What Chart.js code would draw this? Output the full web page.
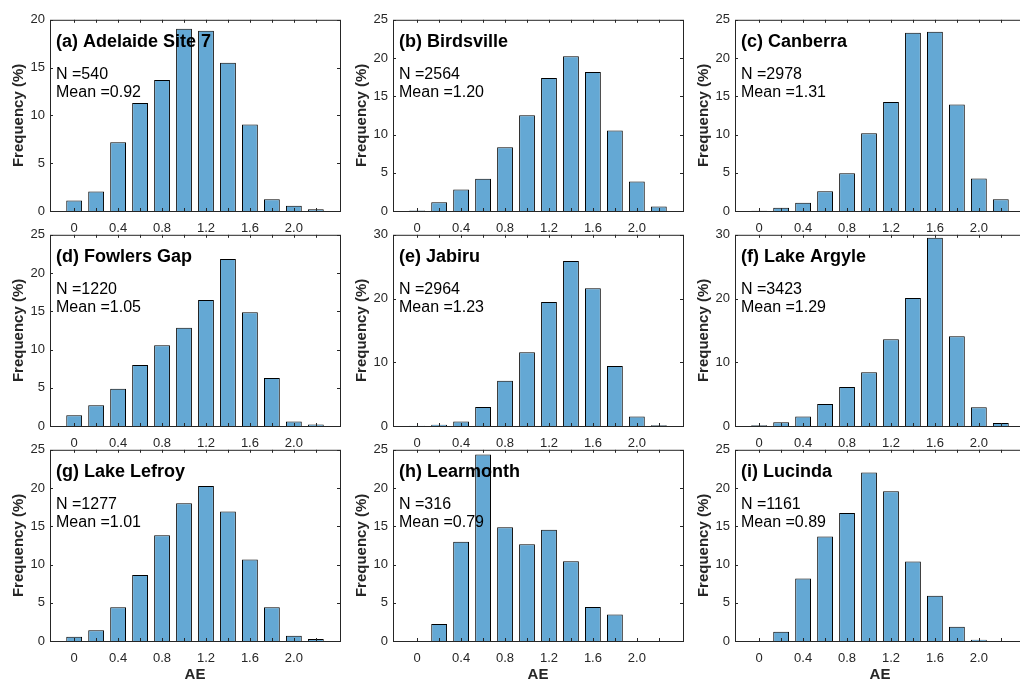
<!DOCTYPE html>
<html>
<head>
<meta charset="utf-8">
<script src="https://cdn.jsdelivr.net/npm/chart.js@4.4.1/dist/chart.umd.min.js"></script>
<style>
  html, body { margin: 0; padding: 0; background: #fff; overflow: hidden; }
  body { width: 1020px; height: 681px; position: relative; }
  canvas { position: absolute; }
</style>
</head>
<body>
<script>
// ── data ──
const bins        = [0, 0.2, 0.4, 0.6, 0.8, 1.0, 1.2, 1.4, 1.6, 1.8, 2.0, 2.2];
const xTickVals   = [0, 0.4, 0.8, 1.2, 1.6, 2.0];
const xTickLabels = ["0", "0.4", "0.8", "1.2", "1.6", "2.0"];

const siteTitles = ["(a) Adelaide Site 7", "(b) Birdsville", "(c) Canberra",
                    "(d) Fowlers Gap", "(e) Jabiru", "(f) Lake Argyle",
                    "(g) Lake Lefroy", "(h) Learmonth", "(i) Lucinda"];
const siteN      = [540, 2564, 2978, 1220, 2964, 3423, 1277, 316, 1161];
const siteMean   = ["0.92", "1.20", "1.31", "1.05", "1.23", "1.29", "1.01", "0.79", "0.89"];
const yMax       = [20, 25, 25, 25, 30, 30, 25, 25, 25];
const yStep      = [5, 5, 5, 5, 10, 10, 5, 5, 5];

const adelaide   = [1.10, 2.03, 7.19, 11.29, 13.70, 19.07, 18.86, 15.52, 9.05, 1.24, 0.55, 0.17];
const birdsville = [0.08, 1.16, 2.80, 4.22, 8.35, 12.52, 17.38, 20.22, 18.16, 10.54, 3.87, 0.60];
const canberra   = [0.03, 0.43, 1.08, 2.58, 4.95, 10.15, 14.24, 23.32, 23.45, 13.94, 4.26, 1.55];
const fowlers    = [1.42, 2.72, 4.87, 7.97, 10.56, 12.84, 16.47, 21.85, 14.87, 6.29, 0.60, 0.20];
const jabiru     = [0.05, 0.20, 0.72, 3.00, 7.09, 11.59, 19.45, 25.87, 21.62, 9.41, 1.50, 0.10];
const argyle     = [0.10, 0.57, 1.50, 3.47, 6.10, 8.43, 13.60, 20.07, 29.54, 14.07, 2.95, 0.47];
const lefroy     = [0.56, 1.42, 4.42, 8.63, 13.83, 18.00, 20.27, 16.92, 10.65, 4.42, 0.69, 0.26];
const learmonth  = [0, 2.22, 12.97, 24.37, 14.87, 12.66, 14.56, 10.44, 4.43, 3.48, 0, 0];
const lucinda    = [0, 1.20, 8.16, 13.66, 16.75, 22.04, 19.59, 10.40, 5.93, 1.85, 0.17, 0];

const siteValues = [adelaide, birdsville, canberra, fowlers, jabiru, argyle, lefroy, learmonth, lucinda];

// ── layout ──
const colLeft = [50, 393, 735];
const rowTop  = [17, 232, 447];
const AX_W = 290, AX_H = 194;
const PAD_L = 50, PAD_T = 10, PAD_R = 10, PAD_B = 45;

const AXIS_COLOR = "#262626";
const BAR_COLOR  = "rgb(100,168,212)";
const FONT       = "'Liberation Sans', Arial, sans-serif";

// box, inward ticks and the text labels
const framePlugin = {
  id: "frame",
  afterDatasetsDraw(chart, args, opts) {
    const { ctx, chartArea: a, scales: { x, y } } = chart;
    const tl = 3;
    ctx.save();
    ctx.strokeStyle = AXIS_COLOR;
    ctx.lineWidth = 1;
    ctx.strokeRect(a.left + 0.5, a.top + 0.5, a.right - a.left, a.bottom - a.top);

    ctx.beginPath();
    bins.forEach(v => {
      const px = Math.round(x.getPixelForValue(v)) + 0.5;
      ctx.moveTo(px, a.bottom); ctx.lineTo(px, a.bottom - tl);
      ctx.moveTo(px, a.top);    ctx.lineTo(px, a.top + tl);
    });
    y.ticks.forEach(t => {
      const py = Math.round(y.getPixelForValue(t.value)) + 0.5;
      ctx.moveTo(a.left, py);  ctx.lineTo(a.left + tl, py);
      ctx.moveTo(a.right, py); ctx.lineTo(a.right - tl, py);
    });
    ctx.stroke();

    ctx.fillStyle = "#000";
    ctx.textBaseline = "alphabetic";
    ctx.textAlign = "left";
    ctx.font = "bold 18px " + FONT;
    ctx.fillText(opts.title, a.left + 6, a.top + 27);
    ctx.font = "16px " + FONT;
    ctx.fillText("N =" + opts.n, a.left + 6, a.top + 59);
    ctx.fillText("Mean =" + opts.mean, a.left + 6, a.top + 77);
    ctx.restore();
  }
};

function makePanel(i) {
  const row = Math.floor(i / 3), col = i % 3;
  const canvas = document.createElement("canvas");
  canvas.width  = PAD_L + AX_W + PAD_R;
  canvas.height = PAD_T + AX_H + PAD_B;
  canvas.style.left = (colLeft[col] - PAD_L) + "px";
  canvas.style.top  = (rowTop[row] - PAD_T) + "px";
  document.body.appendChild(canvas);

  const vals = siteValues[i];
  return new Chart(canvas, {
    type: "bar",
    data: {
      datasets: [{
        data: bins.map((b, k) => ({ x: b, y: vals[k] })),
        backgroundColor: BAR_COLOR,
        borderColor: "#000",
        borderWidth: 1,
        barPercentage: 0.72,
        categoryPercentage: 1
      }]
    },
    options: {
      responsive: false,
      animation: false,
      events: [],
      layout: { padding: { top: PAD_T, right: PAD_R, left: 0, bottom: 0 } },
      plugins: {
        legend: { display: false },
        tooltip: { enabled: false },
        frame: { title: siteTitles[i], n: siteN[i], mean: siteMean[i] }
      },
      scales: {
        x: {
          type: "linear",
          min: -0.22, max: 2.42,
          offset: false,
          grid: { display: false, drawTicks: false, offset: false },
          border: { display: false },
          afterBuildTicks: s => { s.ticks = xTickVals.map(v => ({ value: v })); },
          afterFit: s => { s.height = PAD_B; },
          ticks: {
            autoSkip: false, maxRotation: 0, padding: 10,
            color: AXIS_COLOR,
            font: { family: FONT, size: 13 },
            callback: (v, idx) => xTickLabels[idx]
          },
          title: {
            display: row === 2, text: "AE", color: AXIS_COLOR,
            font: { family: FONT, size: 15, weight: "bold" },
            padding: { top: 0, bottom: 2 }
          }
        },
        y: {
          min: 0, max: yMax[i],
          grid: { display: false, drawTicks: false },
          border: { display: false },
          afterFit: s => { s.width = PAD_L; },
          ticks: {
            stepSize: yStep[i], padding: 5,
            color: AXIS_COLOR,
            font: { family: FONT, size: 13 }
          },
          title: {
            display: true, text: "Frequency (%)", color: AXIS_COLOR,
            font: { family: FONT, size: 15, weight: "bold" },
            padding: { top: 10, bottom: 0 }
          }
        }
      }
    },
    plugins: [framePlugin]
  });
}

siteValues.forEach((_, i) => makePanel(i));
</script>
</body>
</html>
